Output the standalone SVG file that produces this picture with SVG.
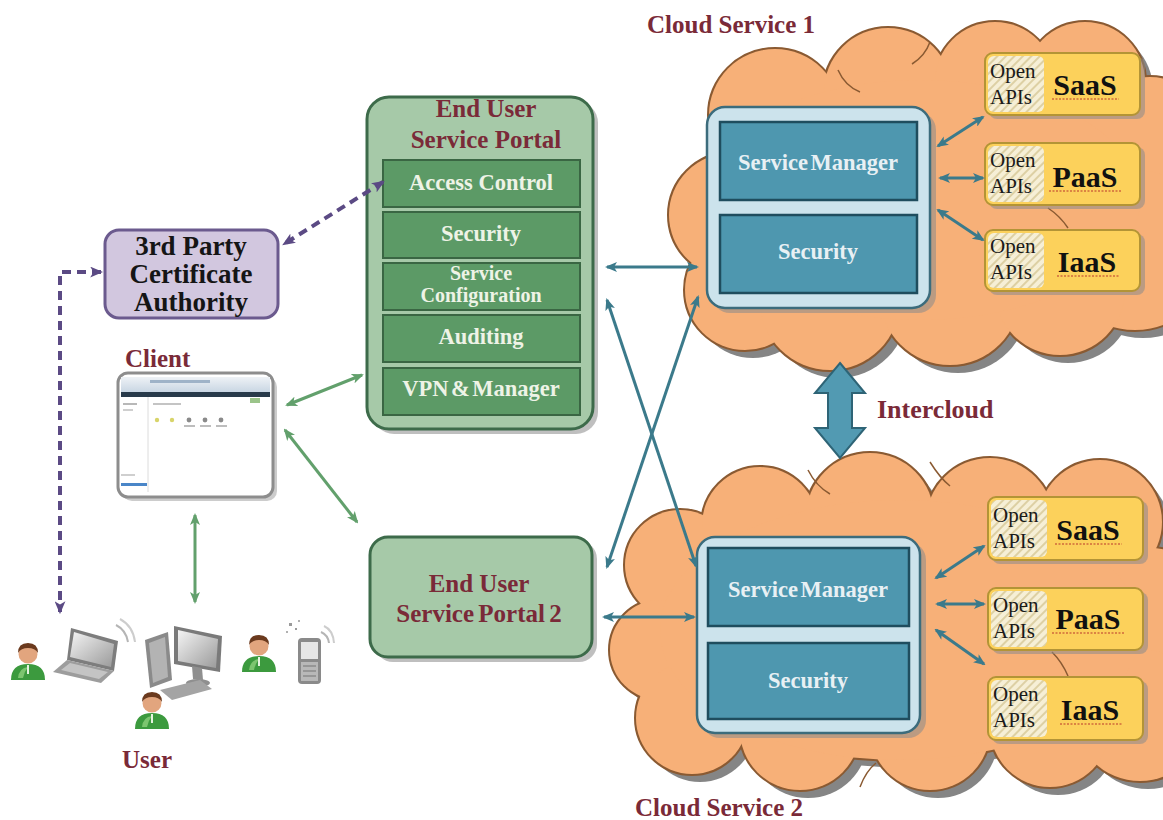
<svg xmlns="http://www.w3.org/2000/svg" xmlns:xlink="http://www.w3.org/1999/xlink" width="1163" height="820" viewBox="0 0 1163 820">
  <style>
    .t { font-family: "Liberation Serif", "Times New Roman", serif; font-weight: bold; }
    .red { fill: #7a2a38; }
    .lbl { fill: #eef3e6; }
    .wlbl { fill: #e8f0f4; }
    .api { font-family: "Liberation Serif", "Times New Roman", serif; font-size: 21px; fill: #1a1a1a; }
    .svc { font-family: "Liberation Serif", "Times New Roman", serif; font-weight: bold; font-size: 30px; fill: #111; }
    .teal { stroke: #3b7a8b; stroke-width: 3; fill: none; marker-start: url(#ahTeal); marker-end: url(#ahTeal); }
    .green { stroke: #62a06c; stroke-width: 3; fill: none; marker-start: url(#ahGreen); marker-end: url(#ahGreen); }
    .purple { stroke: #5b4a84; stroke-width: 4; fill: none; stroke-dasharray: 9 6; marker-start: url(#ahPurple); marker-end: url(#ahPurple); }
    .inner { fill: #5c9a66; stroke: #3a6643; stroke-width: 2; }
    .sm { fill: #4e97af; stroke: #1f4d5e; stroke-width: 2.5; }
    .apibox { fill: #fcd15b; stroke: #b39436; stroke-width: 2; }
    .shadow { fill: #8a8a8a; opacity: 0.55; }
    .cshadow { fill: #858585; }
    .cedge { fill: #8a5a32; stroke: #8a5a32; stroke-width: 4; }
    .cfill { fill: #f7b078; }
    .cline { fill: none; stroke: #8a5a32; stroke-width: 1.5; }
    .ul { stroke: #d06a3c; stroke-width: 1.3; stroke-dasharray: 2 1.5; }
  </style>
  <defs>
    <marker id="ahTeal" viewBox="0 0 12 10" refX="10" refY="5" markerWidth="12" markerHeight="10" markerUnits="userSpaceOnUse" orient="auto-start-reverse">
      <path d="M0,0 L12,5 L0,10 L3,5 Z" fill="#3b7a8b"/>
    </marker>
    <marker id="ahGreen" viewBox="0 0 12 10" refX="10" refY="5" markerWidth="12" markerHeight="10" markerUnits="userSpaceOnUse" orient="auto-start-reverse">
      <path d="M0,0 L12,5 L0,10 L3,5 Z" fill="#62a06c"/>
    </marker>
    <marker id="ahPurple" viewBox="0 0 12 10" refX="10" refY="5" markerWidth="13" markerHeight="11" markerUnits="userSpaceOnUse" orient="auto-start-reverse">
      <path d="M0,0 L12,5 L0,10 L3,5 Z" fill="#5b4a84"/>
    </marker>
    <pattern id="hatch" width="6" height="6" patternUnits="userSpaceOnUse" patternTransform="rotate(45)">
      <rect width="6" height="6" fill="#f6efd6"/>
      <rect width="2" height="6" fill="#ddd0a4"/>
    </pattern>
    <linearGradient id="bar" x1="0" y1="0" x2="0" y2="1">
      <stop offset="0" stop-color="#eef2f6"/>
      <stop offset="1" stop-color="#c9d6e3"/>
    </linearGradient>
    <linearGradient id="grey" x1="0" y1="0" x2="1" y2="1">
      <stop offset="0" stop-color="#f4f4f4"/>
      <stop offset="1" stop-color="#9a9a9a"/>
    </linearGradient>
    <!-- user figure: head centred at 0,0 -->
    <g id="person">
      <path d="M-17,26 Q-17,10 0,10 Q17,10 17,26 Z" fill="#3c9a3e"/>
      <path d="M-10,24 Q-9,14 0,13 Q-4,18 -5,24 Z" fill="#7cc56f"/>
      <path d="M-1,11 L1,11 L1,20 L-1,20 Z" fill="#e6f3e0"/>
      <circle cx="0" cy="0" r="9.5" fill="#e2a57e"/>
      <path d="M-10,-1 Q-10,-11 0,-11 Q10,-11 10,-1 Q7,-6 0,-6 Q-7,-6 -10,-1 Z" fill="#6b3a1e"/>
    </g>
    <!-- cloud bodies built from overlapping circles; paint comes from the <use> -->
    <g id="cloud1">
      <circle cx="775" cy="115" r="66"/>
      <circle cx="888" cy="92" r="64"/>
      <circle cx="995" cy="82" r="60"/>
      <circle cx="1085" cy="82" r="60"/>
      <circle cx="1150" cy="135" r="58"/>
      <circle cx="1135" cy="250" r="80"/>
      <circle cx="731" cy="215" r="62"/>
      <circle cx="745" cy="290" r="60"/>
      <circle cx="830" cy="300" r="70"/>
      <circle cx="950" cy="295" r="70"/>
      <circle cx="1060" cy="290" r="65"/>
      <ellipse cx="920" cy="200" rx="220" ry="120"/>
    </g>
    <g id="cloud2">
      <circle cx="680" cy="565" r="55"/>
      <circle cx="760" cy="525" r="58"/>
      <circle cx="870" cy="517" r="64"/>
      <circle cx="990" cy="522" r="64"/>
      <circle cx="1100" cy="522" r="62"/>
      <circle cx="1150" cy="610" r="62"/>
      <circle cx="1140" cy="715" r="66"/>
      <circle cx="660" cy="650" r="50"/>
      <circle cx="692" cy="718" r="56"/>
      <circle cx="800" cy="730" r="60"/>
      <circle cx="930" cy="730" r="60"/>
      <circle cx="1050" cy="727" r="60"/>
      <ellipse cx="900" cy="630" rx="240" ry="130"/>
    </g>
  </defs>

  <rect width="1163" height="820" fill="#ffffff"/>

  <!-- clouds: shadow, outline, body -->
  <g id="cloud-service-1">
    <use href="#cloud1" class="cshadow" transform="translate(8,8)"/>
    <use href="#cloud1" class="cedge"/>
    <use href="#cloud1" class="cfill"/>
    <path class="cline" d="M838,70 Q845,86 860,92"/>
    <path class="cline" d="M930,42 Q925,56 912,64"/>
    <path class="cline" d="M1048,208 Q1060,216 1068,228"/>
    <path class="cline" d="M712,150 Q722,162 730,176"/>
    <text class="t red" x="647" y="33" font-size="25">Cloud Service 1</text>
  </g>
  <g id="cloud-service-2">
    <use href="#cloud2" class="cshadow" transform="translate(8,8)"/>
    <use href="#cloud2" class="cedge"/>
    <use href="#cloud2" class="cfill"/>
    <path class="cline" d="M808,470 Q816,486 830,494"/>
    <path class="cline" d="M930,462 Q940,478 950,486"/>
    <path class="cline" d="M1052,652 Q1062,662 1068,676"/>
    <path class="cline" d="M860,787 Q866,771 876,763"/>
    <text class="t red" x="635" y="816" font-size="25">Cloud Service 2</text>
  </g>

  <!-- service manager stacks -->
  <g id="cloud1-manager">
    <rect class="shadow" x="712" y="112" width="224" height="201" rx="18"/>
    <rect x="707" y="107" width="223" height="201" rx="18" fill="#cce3ec" stroke="#3c6c7c" stroke-width="2.5"/>
    <rect class="sm" x="720" y="122" width="197" height="78"/>
    <rect class="sm" x="720" y="215" width="197" height="78"/>
    <text class="t wlbl" x="818" y="170" font-size="22.5" text-anchor="middle" word-spacing="-3">Service Manager</text>
    <text class="t wlbl" x="818" y="259" font-size="22.5" text-anchor="middle">Security</text>
  </g>
  <g id="cloud2-manager">
    <rect class="shadow" x="702" y="542" width="224" height="196" rx="18"/>
    <rect x="697" y="537" width="223" height="196" rx="18" fill="#cce3ec" stroke="#3c6c7c" stroke-width="2.5"/>
    <rect class="sm" x="708" y="548" width="201" height="78"/>
    <rect class="sm" x="708" y="643" width="201" height="76"/>
    <text class="t wlbl" x="808" y="597" font-size="22.5" text-anchor="middle" word-spacing="-3">Service Manager</text>
    <text class="t wlbl" x="808" y="688" font-size="22.5" text-anchor="middle">Security</text>
  </g>

  <!-- open API service boxes -->
  <g id="c1-saas">
    <rect class="shadow" x="989" y="57" width="156" height="62" rx="8"/>
    <rect class="apibox" x="985" y="53" width="155" height="62" rx="8"/>
    <rect x="988" y="56" width="56" height="56" rx="6" fill="url(#hatch)"/>
    <text class="api" x="990" y="78">Open</text>
    <text class="api" x="990" y="104">APIs</text>
    <text class="svc" x="1085" y="95" text-anchor="middle">SaaS</text>
    <line class="ul" x1="1052" y1="99" x2="1119" y2="99"/>
  </g>
  <g id="c1-paas">
    <rect class="shadow" x="989" y="147" width="156" height="62" rx="8"/>
    <rect class="apibox" x="985" y="143" width="155" height="62" rx="8"/>
    <rect x="988" y="146" width="56" height="56" rx="6" fill="url(#hatch)"/>
    <text class="api" x="990" y="167">Open</text>
    <text class="api" x="990" y="193">APIs</text>
    <text class="svc" x="1085" y="187" text-anchor="middle">PaaS</text>
    <line class="ul" x1="1049" y1="191" x2="1121" y2="191"/>
  </g>
  <g id="c1-iaas">
    <rect class="shadow" x="989" y="234" width="156" height="61" rx="8"/>
    <rect class="apibox" x="985" y="230" width="155" height="61" rx="8"/>
    <rect x="988" y="233" width="56" height="55" rx="6" fill="url(#hatch)"/>
    <text class="api" x="990" y="253">Open</text>
    <text class="api" x="990" y="279">APIs</text>
    <text class="svc" x="1087" y="272" text-anchor="middle">IaaS</text>
    <line class="ul" x1="1057" y1="276" x2="1119" y2="276"/>
  </g>
  <g id="c2-saas">
    <rect class="shadow" x="992" y="501" width="156" height="63" rx="8"/>
    <rect class="apibox" x="988" y="497" width="155" height="63" rx="8"/>
    <rect x="991" y="500" width="56" height="57" rx="6" fill="url(#hatch)"/>
    <text class="api" x="993" y="522">Open</text>
    <text class="api" x="993" y="548">APIs</text>
    <text class="svc" x="1088" y="540" text-anchor="middle">SaaS</text>
    <line class="ul" x1="1055" y1="544" x2="1122" y2="544"/>
  </g>
  <g id="c2-paas">
    <rect class="shadow" x="992" y="592" width="156" height="62" rx="8"/>
    <rect class="apibox" x="988" y="588" width="155" height="62" rx="8"/>
    <rect x="991" y="591" width="56" height="56" rx="6" fill="url(#hatch)"/>
    <text class="api" x="993" y="612">Open</text>
    <text class="api" x="993" y="638">APIs</text>
    <text class="svc" x="1088" y="629" text-anchor="middle">PaaS</text>
    <line class="ul" x1="1052" y1="633" x2="1124" y2="633"/>
  </g>
  <g id="c2-iaas">
    <rect class="shadow" x="992" y="681" width="156" height="63" rx="8"/>
    <rect class="apibox" x="988" y="677" width="155" height="63" rx="8"/>
    <rect x="991" y="680" width="56" height="57" rx="6" fill="url(#hatch)"/>
    <text class="api" x="993" y="701">Open</text>
    <text class="api" x="993" y="727">APIs</text>
    <text class="svc" x="1090" y="720" text-anchor="middle">IaaS</text>
    <line class="ul" x1="1060" y1="724" x2="1122" y2="724"/>
  </g>

  <!-- intercloud link -->
  <g id="intercloud">
    <polygon points="840,363 865,393 852,393 852,428 865,428 840,458 815,428 828,428 828,393 815,393" fill="#529ab2" stroke="#2e6476" stroke-width="2"/>
    <text class="t red" x="877" y="418" font-size="26">Intercloud</text>
  </g>

  <!-- portal 1 -->
  <g id="portal-1">
    <rect class="shadow" x="372" y="101" width="226" height="333" rx="22"/>
    <rect x="367" y="97" width="226" height="332" rx="22" fill="#a6c9a8" stroke="#3d6b4a" stroke-width="3"/>
    <text class="t red" x="486" y="117" font-size="25" text-anchor="middle">End User</text>
    <text class="t red" x="486" y="148" font-size="25" text-anchor="middle">Service Portal</text>
    <rect class="inner" x="383" y="160" width="197" height="47"/>
    <rect class="inner" x="383" y="212" width="197" height="46"/>
    <rect class="inner" x="383" y="263" width="197" height="47"/>
    <rect class="inner" x="383" y="315" width="197" height="47"/>
    <rect class="inner" x="383" y="368" width="197" height="47"/>
    <text class="t lbl" x="481" y="190" font-size="22.5" text-anchor="middle">Access Control</text>
    <text class="t lbl" x="481" y="241" font-size="22.5" text-anchor="middle">Security</text>
    <text class="t lbl" x="481" y="279.5" font-size="20" text-anchor="middle">Service</text>
    <text class="t lbl" x="481" y="302" font-size="20" text-anchor="middle">Configuration</text>
    <text class="t lbl" x="481" y="344" font-size="22.5" text-anchor="middle">Auditing</text>
    <text class="t lbl" x="481" y="396" font-size="22.5" text-anchor="middle" word-spacing="-3">VPN &amp; Manager</text>
  </g>

  <!-- portal 2 -->
  <g id="portal-2">
    <rect class="shadow" x="375" y="541" width="222" height="121" rx="18"/>
    <rect x="370" y="537" width="222" height="120" rx="18" fill="#a6c9a8" stroke="#3d6b4a" stroke-width="3"/>
    <text class="t red" x="479" y="592" font-size="25" text-anchor="middle">End User</text>
    <text class="t red" x="479" y="622" font-size="25" text-anchor="middle" word-spacing="-2">Service Portal 2</text>
  </g>

  <!-- certificate authority -->
  <g id="cert-authority">
    <rect x="105" y="230" width="173" height="88" rx="14" fill="#d2c7df" stroke="#6b5a8e" stroke-width="3"/>
    <text class="t" x="191" y="255" font-size="27" text-anchor="middle" fill="#151515">3rd Party</text>
    <text class="t" x="191" y="283" font-size="27" text-anchor="middle" fill="#151515">Certificate</text>
    <text class="t" x="191" y="311" font-size="27" text-anchor="middle" fill="#151515">Authority</text>
  </g>

  <!-- client browser window -->
  <g id="client">
    <text class="t red" x="125" y="367" font-size="25">Client</text>
    <rect x="122" y="377" width="155" height="124" rx="10" fill="#9a9a9a" opacity="0.5"/>
    <rect x="118" y="373" width="155" height="124" rx="10" fill="#ffffff" stroke="#8d8d8d" stroke-width="3"/>
    <rect x="121" y="377" width="149" height="15" fill="url(#bar)"/>
    <rect x="150" y="380" width="60" height="3" fill="#9fb3c8"/>
    <rect x="121" y="392" width="149" height="5" fill="#283a4a"/>
    <line x1="148" y1="397" x2="148" y2="492" stroke="#dcdcdc" stroke-width="1"/>
    <rect x="123" y="403" width="14" height="2" fill="#b8b8b8"/>
    <rect x="123" y="409" width="10" height="2" fill="#cfcfcf"/>
    <rect x="153" y="403" width="28" height="2" fill="#c4c4c4"/>
    <rect x="250" y="398" width="10" height="5" fill="#9bc48a"/>
    <circle cx="157" cy="420" r="2.2" fill="#d8d46a"/>
    <circle cx="172" cy="420" r="2.2" fill="#d8d46a"/>
    <circle cx="189" cy="420" r="2.4" fill="#8a8a8a"/>
    <circle cx="205" cy="420" r="2.4" fill="#8a8a8a"/>
    <circle cx="221" cy="420" r="2.4" fill="#8a8a8a"/>
    <rect x="184" y="425" width="11" height="2" fill="#bdbdbd"/>
    <rect x="200" y="425" width="11" height="2" fill="#bdbdbd"/>
    <rect x="216" y="425" width="11" height="2" fill="#bdbdbd"/>
    <rect x="121" y="474" width="14" height="2" fill="#cfcfcf"/>
    <rect x="121" y="483" width="26" height="3" fill="#4a86c8"/>
  </g>

  <!-- end users and their devices -->
  <g id="users">
    <use href="#person" x="28" y="654"/>
    <use href="#person" x="152" y="703"/>
    <use href="#person" x="259" y="646"/>
    <!-- laptop -->
    <polygon points="71,628 118,641 114,671 67,660" fill="#7d7d7d"/>
    <polygon points="74,632 114,644 111,667 70,657" fill="url(#grey)"/>
    <polygon points="67,660 114,671 101,683 53,672" fill="#9d9d9d"/>
    <polygon points="70,663 108,672 99,679 61,670" fill="#c4c4c4"/>
    <path d="M116,625 Q126,630 128,642" fill="none" stroke="#b5b5b5" stroke-width="2"/>
    <path d="M120,619 Q133,626 135,642" fill="none" stroke="#cdcdcd" stroke-width="2"/>
    <!-- desktop -->
    <polygon points="145,640 168,632 172,680 150,688" fill="#8a8a8a"/>
    <polygon points="149,643 165,637 168,677 153,683" fill="#b3b3b3"/>
    <polygon points="174,626 222,636 220,672 174,664" fill="#7a7a7a"/>
    <polygon points="178,630 218,639 216,668 178,661" fill="url(#grey)"/>
    <polygon points="192,666 202,668 203,680 193,679" fill="#8f8f8f"/>
    <ellipse cx="198" cy="683" rx="12" ry="4" fill="#8f8f8f"/>
    <polygon points="160,690 200,680 212,689 172,700" fill="#a4a4a4"/>
    <!-- phone -->
    <rect x="298" y="638" width="23" height="46" rx="4" fill="#8a8a8a"/>
    <rect x="301" y="642" width="17" height="17" fill="#e6e6e6"/>
    <rect x="301" y="662" width="17" height="19" fill="#b8b8b8"/>
    <path d="M303,666 H316 M303,671 H316 M303,676 H316" stroke="#8a8a8a" stroke-width="1.5"/>
    <rect x="289" y="623" width="3" height="3" fill="#9a9a9a"/>
    <rect x="295" y="628" width="2" height="2" fill="#9a9a9a"/>
    <rect x="286" y="631" width="2" height="2" fill="#b0b0b0"/>
    <rect x="298" y="620" width="2" height="2" fill="#b0b0b0"/>
    <path d="M321,632 Q328,635 329,643" fill="none" stroke="#b5b5b5" stroke-width="2"/>
    <path d="M324,626 Q333,630 334,643" fill="none" stroke="#cdcdcd" stroke-width="2"/>
    <text class="t red" x="122" y="768" font-size="25">User</text>
  </g>

  <!-- connectors -->
  <g id="connectors">
    <path class="purple" d="M383,182 L284,244"/>
    <path class="purple" d="M101,272 L60,272 L60,612"/>
    <path class="green" d="M287,405 L362,375"/>
    <path class="green" d="M285,430 L357,522"/>
    <path class="green" d="M195,515 L195,602"/>
    <path class="teal" d="M607,267 L697,267"/>
    <path class="teal" d="M607,300 L696,566"/>
    <path class="teal" d="M698,297 L607,567"/>
    <path class="teal" d="M604,617 L694,617"/>
    <path class="teal" d="M938,146 L983,117"/>
    <path class="teal" d="M940,178 L983,178"/>
    <path class="teal" d="M938,210 L983,240"/>
    <path class="teal" d="M936,578 L984,546"/>
    <path class="teal" d="M937,604 L984,604"/>
    <path class="teal" d="M936,630 L984,664"/>
  </g>
</svg>
